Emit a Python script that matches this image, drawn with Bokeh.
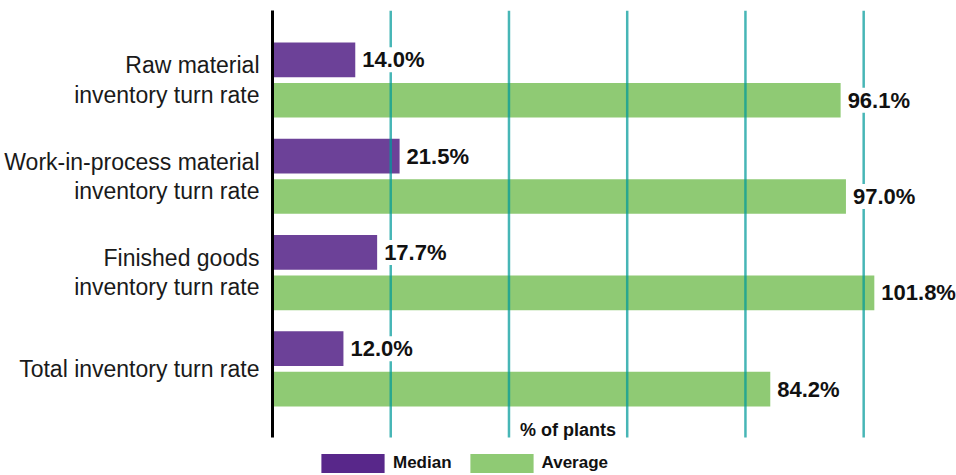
from bokeh.plotting import figure
from bokeh.models import Range1d, FixedTicker, ColumnDataSource, LabelSet, Label, Legend, LegendItem
from bokeh.core.properties import value
from bokeh.embed import file_html
from bokeh.resources import INLINE

categories = ["Raw material\ninventory turn rate",
              "Work-in-process material\ninventory turn rate",
              "Finished goods\ninventory turn rate",
              "Total inventory turn rate"]
median = [14.0, 21.5, 17.7, 12.0]
average = [96.1, 97.0, 101.8, 84.2]
grid_ticks = [20, 40, 60, 80, 100]

FONT = "Liberation Sans"
PURPLE = "#58278a"
GREEN = "#8fca74"

# vertical layout in category units (flipped axis)
Y_TOP = -0.722        # top of plot area
Y_AXIS_END = 3.712    # where axis & grid lines stop
Y_BOTTOM = 4.107      # bottom of canvas (room for legend)

pos = list(range(len(categories)))
off = 0.21
med_src = ColumnDataSource(dict(y=[i - off for i in pos], v=median,
                                t=[f"{v:.1f}%" for v in median]))
avg_src = ColumnDataSource(dict(y=[i + off for i in pos], v=average,
                                t=[f"{v:.1f}%" for v in average]))

p = figure(width=956, height=475, output_backend="svg", toolbar_location=None,
           x_range=Range1d(0, 115.7), y_range=Range1d(Y_BOTTOM, Y_TOP))
p.min_border_left = 272
p.min_border_right = 0
p.min_border_top = 10
p.min_border_bottom = 0
p.outline_line_color = None
p.background_fill_color = "white"
p.border_fill_color = "white"

p.hbar(y="y", left=0, right="v", height=0.36, source=med_src,
       fill_color=PURPLE, fill_alpha=0.88, line_color=None)
p.hbar(y="y", left=0, right="v", height=0.36, source=avg_src,
       fill_color=GREEN, line_color=None)

# vertical grid lines, drawn over the bars
p.segment(x0=grid_ticks, x1=grid_ticks,
          y0=[Y_TOP] * len(grid_ticks), y1=[Y_AXIS_END] * len(grid_ticks),
          line_color="#009a9a", line_alpha=0.72, line_width=2.5)

# legend swatch renderers (zero-width bars, full-strength colors)
leg_m = p.hbar(y=[0], left=[0], right=[0], height=0.36, fill_color=PURPLE, line_color=None)
leg_a = p.hbar(y=[0], left=[0], right=[0], height=0.36, fill_color=GREEN, line_color=None)

p.xaxis.visible = False
p.xgrid.grid_line_color = None
p.ygrid.grid_line_color = None

ax = p.yaxis[0]
ax.ticker = FixedTicker(ticks=pos)
ax.bounds = (Y_TOP, Y_AXIS_END)
ax.major_label_overrides = {i: c for i, c in zip(pos, categories)}
ax.major_label_text_font = FONT
ax.major_label_text_font_size = "23px"
ax.major_label_text_color = "#1a1a1a"
ax.major_label_text_line_height = 1.13
ax.major_label_standoff = 7
ax.major_tick_line_color = None
ax.minor_tick_line_color = None
ax.axis_line_color = "black"
ax.axis_line_width = 3

for src in (med_src, avg_src):
    p.add_layout(LabelSet(x="v", y="y", text="t", source=src, x_offset=7,
                          text_baseline="middle", text_align="left",
                          text_font=value(FONT), text_font_style="bold",
                          text_font_size="22px", text_color="#111111",
                          background_fill_color="white"))

p.add_layout(Label(x=50, y=3.63, text="% of plants", text_align="center",
                   text_baseline="middle", text_font=FONT, text_font_style="bold",
                   text_font_size="18px", text_color="#111111"))

legend = Legend(items=[LegendItem(label="Median", renderers=[leg_m]),
                       LegendItem(label="Average", renderers=[leg_a])],
                orientation="horizontal", location=(41, 0))
legend.glyph_width = 79
legend.glyph_height = 24
legend.label_standoff = 1
legend.spacing = 10
legend.padding = 0
legend.margin = 0
legend.border_line_color = None
legend.background_fill_alpha = 0
legend.label_text_font = FONT
legend.label_text_font_style = "bold"
legend.label_text_font_size = "17px"
legend.label_text_color = "#111111"
legend.label_height = 24
p.add_layout(legend, "center")

open("out.html", "w").write(file_html(p, INLINE))
